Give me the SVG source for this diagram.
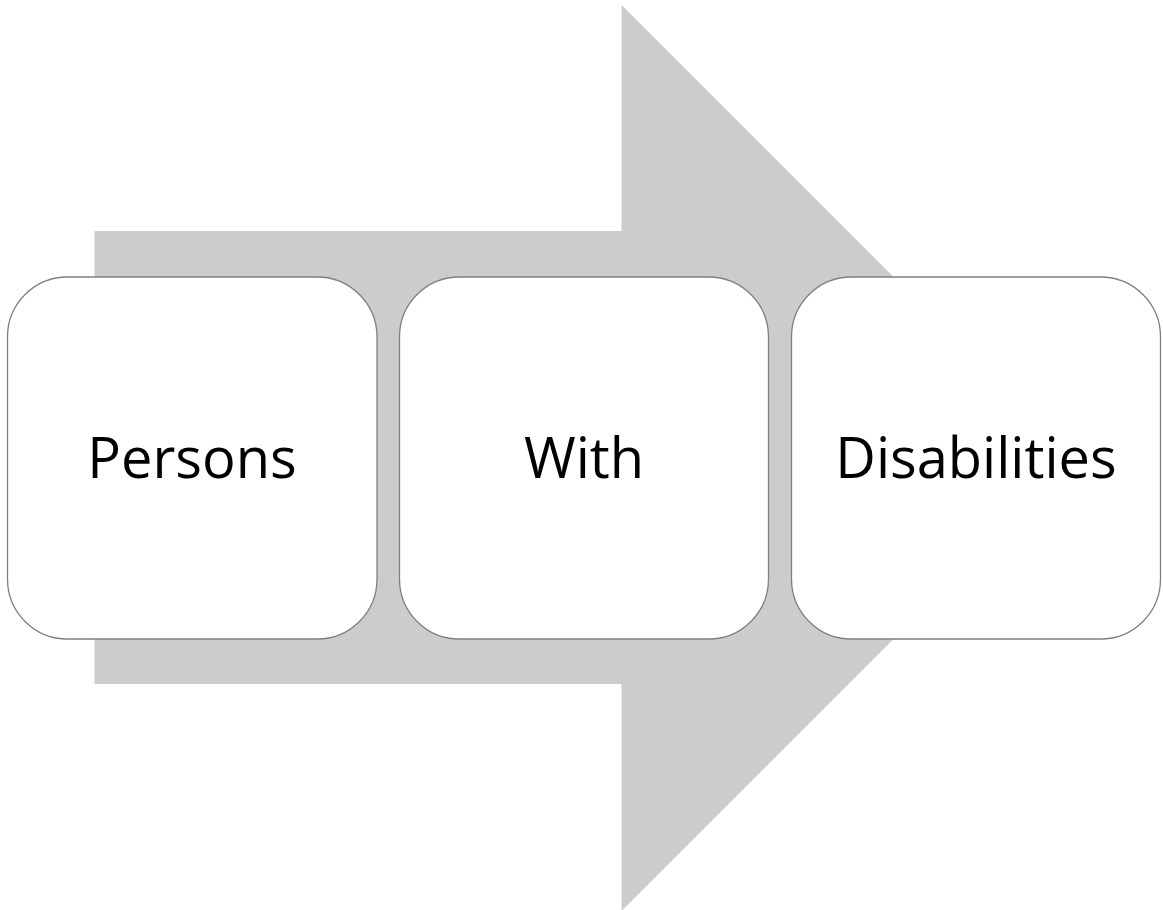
<svg xmlns="http://www.w3.org/2000/svg" width="1163" height="910" viewBox="0 0 1163 910">
<style>
.box{fill:#ffffff;stroke:#808080;stroke-width:1.3}
.lbl{font-family:"Open Sans","Liberation Sans",Arial,sans-serif;font-size:56px;fill:#000000;text-anchor:middle}
</style>
<rect width="1163" height="910" fill="#ffffff"/>
<g id="arrow">
<polygon points="94.5,231 621.5,231 621.5,5 1074.5,458 621.5,911 621.5,684 94.5,684" fill="#cccccc"/>
</g>
<g id="node-persons">
<rect class="box" x="7.5" y="277" width="369.5" height="362" rx="60" ry="60"/>
<text class="lbl" x="192" y="478">Persons</text>
</g>
<g id="node-with">
<rect class="box" x="399.5" y="277" width="369" height="362" rx="60" ry="60"/>
<text class="lbl" x="584" y="478">With</text>
</g>
<g id="node-disabilities">
<rect class="box" x="791.5" y="277" width="369" height="362" rx="60" ry="60"/>
<text class="lbl" x="976" y="478">Disabilities</text>
</g>
<g id="connectors"></g>
</svg>
